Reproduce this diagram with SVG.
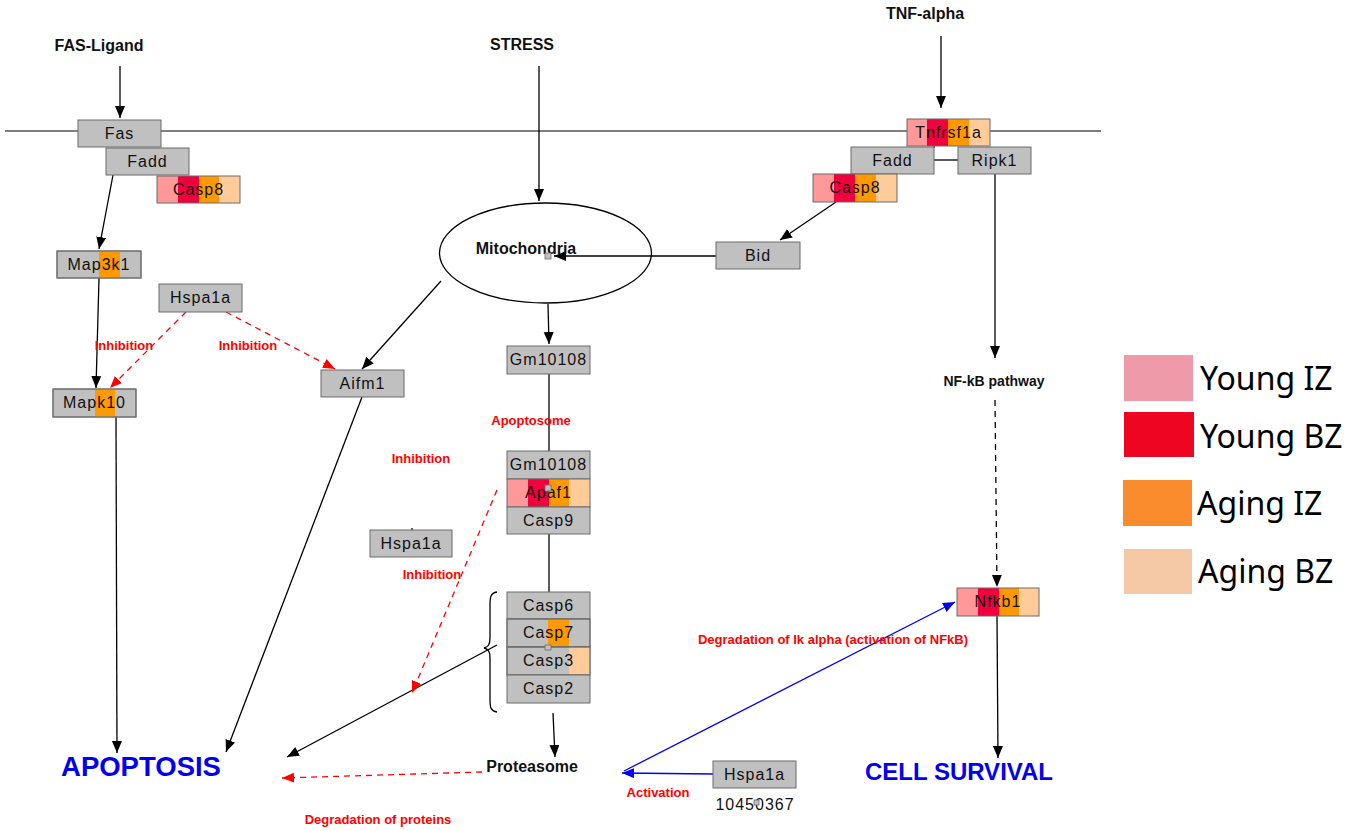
<svg xmlns="http://www.w3.org/2000/svg" width="1363" height="831" viewBox="0 0 1363 831">
<style>
.n{fill:#c0c0c0;stroke:#6b6b6b;stroke-width:1}
.t{font-family:"Liberation Sans",Arial,sans-serif;font-size:16px;letter-spacing:1px;fill:#111;text-anchor:middle}
.lb{font-family:"Liberation Sans",Arial,sans-serif;font-weight:bold;fill:#111;text-anchor:middle}
.rd{font-family:"Liberation Sans",Arial,sans-serif;font-weight:bold;fill:#f00;font-size:13px;text-anchor:middle}
.bl{font-family:"Liberation Sans",Arial,sans-serif;font-weight:bold;fill:#0000ee;text-anchor:middle}
.lg{font-family:"Noto Sans","Open Sans",sans-serif;font-size:32px;fill:#000}
.c1{fill:#ff9999}.c2{fill:#f0003c}.c3{fill:#ff9900}.c4{fill:#ffcc99}
.k{stroke:#000;stroke-width:1.3;fill:none}
.kd{stroke:#000;stroke-width:1.3;fill:none;stroke-dasharray:6,5}
.r{stroke:#f00;stroke-width:1.3;fill:none;stroke-dasharray:6,5}
.b{stroke:#0000ee;stroke-width:1.3;fill:none}
.o{fill:none;stroke:#6b6b6b;stroke-width:1}
.sq{fill:#c0c0c0;stroke:#6b6b6b;stroke-width:0.8}
</style>
<defs>
<marker id="ak" markerUnits="userSpaceOnUse" markerWidth="13" markerHeight="11" refX="12" refY="5" orient="auto"><path d="M0,0 L12,5 L0,10 z" fill="#000"/></marker>
<marker id="ar" markerUnits="userSpaceOnUse" markerWidth="13" markerHeight="11" refX="12" refY="5" orient="auto"><path d="M0,0 L12,5 L0,10 z" fill="#f00"/></marker>
<marker id="ab" markerUnits="userSpaceOnUse" markerWidth="13" markerHeight="11" refX="12" refY="5" orient="auto"><path d="M0,0 L12,5 L0,10 z" fill="#0000ee"/></marker>
</defs>
<rect width="1363" height="831" fill="#fff"/>

<!-- membrane -->
<line x1="5" y1="131" x2="1101" y2="131" stroke="#000" stroke-width="1.2"/>

<g id="connectors">
<line class="k" x1="120" y1="66" x2="120" y2="118" marker-end="url(#ak)"/>
<line class="k" x1="539" y1="66" x2="539" y2="201" marker-end="url(#ak)"/>
<line class="k" x1="941" y1="36" x2="941" y2="108" marker-end="url(#ak)"/>
<line class="k" x1="113" y1="175" x2="99" y2="249" marker-end="url(#ak)"/>
<line class="k" x1="99" y1="278" x2="96" y2="388" marker-end="url(#ak)"/>
<line class="k" x1="116" y1="417" x2="117" y2="753" marker-end="url(#ak)"/>
<line class="k" x1="362" y1="397" x2="226" y2="752" marker-end="url(#ak)"/>
<line class="k" x1="441" y1="281" x2="362" y2="369" marker-end="url(#ak)"/>
<line class="k" x1="716" y1="256" x2="554" y2="256" marker-end="url(#ak)"/>
<line class="k" x1="836" y1="202" x2="780" y2="240" marker-end="url(#ak)"/>
<line class="k" x1="934" y1="160" x2="958" y2="160"/>
<line class="k" x1="934" y1="146" x2="934" y2="148"/>
<line class="k" x1="995" y1="174" x2="995" y2="358" marker-end="url(#ak)"/>
<line class="kd" x1="995" y1="400" x2="997" y2="587" marker-end="url(#ak)"/>
<line class="k" x1="997" y1="616" x2="998" y2="758" marker-end="url(#ak)"/>
<line class="k" x1="548" y1="304" x2="549" y2="344" marker-end="url(#ak)"/>
<line class="k" x1="549" y1="374" x2="549" y2="451"/>
<line class="k" x1="549" y1="534" x2="549" y2="592"/>
<line class="k" x1="553" y1="713" x2="555" y2="757" marker-end="url(#ak)"/>
<line class="k" x1="497" y1="645" x2="287" y2="757" marker-end="url(#ak)"/>
<line class="r" x1="186" y1="312" x2="110" y2="388" marker-end="url(#ar)"/>
<line class="r" x1="226" y1="312" x2="335" y2="369" marker-end="url(#ar)"/>
<line class="r" x1="497" y1="490" x2="412" y2="693" marker-end="url(#ar)"/>
<line class="r" x1="482" y1="772" x2="282" y2="778" marker-end="url(#ar)"/>
<line class="b" x1="713" y1="774" x2="622" y2="773" marker-end="url(#ab)"/>
<line class="b" x1="624" y1="771" x2="955" y2="602" marker-end="url(#ab)"/>
<path class="k" d="M497,592 C490,593 490,598 490,606 L490,638 C490,645 488,647 484,648 C488,649 490,651 490,658 L490,700 C490,708 491,711 497,712"/>
<line class="k" x1="412" y1="528" x2="412" y2="530"/>
</g>

<!-- left pathway -->
<g id="fas"><rect class="n" x="78" y="120" width="83" height="27"/><text class="t" x="119.5" y="139">Fas</text></g>
<g id="fadd-left"><rect class="n" x="106" y="148" width="83" height="27"/><text class="t" x="147.5" y="167">Fadd</text></g>
<g id="casp8-left">
<rect class="c1" x="157" y="176" width="21" height="27"/><rect class="c2" x="178" y="176" width="21" height="27"/><rect class="c3" x="199" y="176" width="20" height="27"/><rect class="c4" x="219" y="176" width="21" height="27"/>
<rect class="o" x="157" y="176" width="83" height="27"/><text class="t" x="198.5" y="195">Casp8</text></g>
<g id="map3k1"><rect class="n" x="57" y="251" width="84" height="27"/><rect class="c3" x="99" y="251.5" width="21" height="26"/><rect class="o" x="57" y="251" width="84" height="27"/><text class="t" x="99" y="270">Map3k1</text></g>
<g id="hspa1a-top"><rect class="n" x="159" y="284" width="83" height="28"/><text class="t" x="200.5" y="303">Hspa1a</text></g>
<g id="mapk10"><rect class="n" x="53" y="389" width="83" height="28"/><rect class="c3" x="95" y="389.5" width="20" height="27"/><rect class="o" x="53" y="389" width="83" height="28"/><text class="t" x="94.5" y="408">Mapk10</text></g>
<g id="aifm1"><rect class="n" x="321" y="370" width="83" height="27"/><text class="t" x="362.5" y="389">Aifm1</text></g>
<g id="hspa1a-mid"><rect class="n" x="370" y="530" width="82" height="27"/><text class="t" x="411" y="549">Hspa1a</text></g>

<!-- mitochondria -->
<g id="mitochondria"><ellipse cx="545.5" cy="253" rx="106" ry="50" fill="none" stroke="#000" stroke-width="1.3"/><text class="lb" x="526" y="254" font-size="16">Mitochondria</text><rect class="sq" x="545" y="253" width="6" height="6"/></g>
<g id="bid"><rect class="n" x="716" y="242" width="84" height="27"/><text class="t" x="758" y="261">Bid</text></g>

<!-- center column -->
<g id="gm10108-a"><rect class="n" x="507" y="346" width="83" height="28"/><text class="t" x="548.5" y="365">Gm10108</text></g>
<g id="apoptosome-complex">
<rect class="n" x="507" y="451" width="83" height="28"/><text class="t" x="548.5" y="470">Gm10108</text>
<rect class="c1" x="507" y="479" width="21" height="28"/><rect class="c2" x="528" y="479" width="21" height="28"/><rect class="c3" x="549" y="479" width="20" height="28"/><rect class="c4" x="569" y="479" width="21" height="28"/>
<rect class="o" x="507" y="479" width="83" height="28"/><text class="t" x="548.5" y="498">Apaf1</text>
<rect class="sq" x="545" y="485" width="6" height="6"/>
<rect class="n" x="507" y="507" width="83" height="27"/><text class="t" x="548.5" y="526">Casp9</text>
</g>
<g id="caspases">
<rect class="n" x="507" y="592" width="83" height="27"/><text class="t" x="548.5" y="611">Casp6</text>
<rect class="n" x="507" y="619" width="83" height="28"/><rect class="c3" x="548" y="619.5" width="21" height="27"/><rect class="o" x="507" y="619" width="83" height="28"/><text class="t" x="548.5" y="638">Casp7</text>
<rect class="n" x="507" y="647" width="83" height="28"/><rect class="c4" x="569" y="647.5" width="20.5" height="27"/><rect class="o" x="507" y="647" width="83" height="28"/><text class="t" x="548.5" y="666">Casp3</text>
<rect class="n" x="507" y="675" width="83" height="28"/><text class="t" x="548.5" y="694">Casp2</text>
<rect class="sq" x="545" y="645" width="6" height="5"/>
</g>

<!-- right pathway -->
<g id="tnfrsf1a">
<rect class="c1" x="907" y="119" width="20" height="27"/><rect class="c2" x="927" y="119" width="21" height="27"/><rect class="c3" x="948" y="119" width="21" height="27"/><rect class="c4" x="969" y="119" width="21" height="27"/>
<rect class="o" x="907" y="119" width="83" height="27"/><text class="t" x="948.5" y="138">Tnfrsf1a</text></g>
<g id="fadd-right"><rect class="n" x="851" y="147" width="83" height="27"/><text class="t" x="892.5" y="166">Fadd</text></g>
<g id="ripk1"><rect class="n" x="958" y="147" width="73" height="27"/><text class="t" x="994.5" y="166">Ripk1</text></g>
<g id="casp8-right">
<rect class="c1" x="813" y="174" width="21" height="28"/><rect class="c2" x="834" y="174" width="21" height="28"/><rect class="c3" x="855" y="174" width="21" height="28"/><rect class="c4" x="876" y="174" width="21" height="28"/>
<rect class="o" x="813" y="174" width="84" height="28"/><text class="t" x="855" y="193">Casp8</text></g>
<g id="nfkb1">
<rect class="c1" x="957" y="588" width="21" height="28"/><rect class="c2" x="978" y="588" width="21" height="28"/><rect class="c3" x="999" y="588" width="20" height="28"/><rect class="c4" x="1019" y="588" width="20" height="28"/>
<rect class="o" x="957" y="588" width="82" height="28"/><text class="t" x="998" y="607">Nfkb1</text></g>
<g id="hspa1a-bottom"><rect class="n" x="713" y="761" width="83" height="27"/><text class="t" x="754.5" y="780">Hspa1a</text>
<text class="t" x="755" y="810" letter-spacing="1.5px">10450367</text><rect class="sq" x="754" y="800" width="5" height="5" fill="none"/></g>

<!-- labels -->
<g id="labels">
<text class="lb" x="99" y="51" font-size="16">FAS-Ligand</text>
<text class="lb" x="522" y="50" font-size="16">STRESS</text>
<text class="lb" x="925" y="19" font-size="16">TNF-alpha</text>
<text class="lb" x="994" y="386" font-size="14">NF-kB pathway</text>
<text class="lb" x="532" y="772" font-size="16">Proteasome</text>
<text class="bl" x="141" y="776" font-size="27.5">APOPTOSIS</text>
<text class="bl" x="959" y="780" font-size="24">CELL SURVIVAL</text>
<text class="rd" x="124" y="350">Inhibition</text>
<text class="rd" x="248" y="350">Inhibition</text>
<text class="rd" x="421" y="463">Inhibition</text>
<text class="rd" x="432" y="579">Inhibition</text>
<text class="rd" x="531" y="425" font-size="14">Apoptosome</text>
<text class="rd" x="833" y="644" font-size="13.5">Degradation of Ik alpha (activation of NFkB)</text>
<text class="rd" x="378" y="824">Degradation of proteins</text>
<text class="rd" x="658" y="797">Activation</text>
</g>

<!-- legend -->
<g id="legend">
<rect x="1124" y="355" width="69" height="46" fill="#ee9aa8"/>
<rect x="1124" y="412" width="70" height="45" fill="#ee0522"/>
<rect x="1123" y="480" width="69" height="46" fill="#fb8c2e"/>
<rect x="1124" y="549" width="68" height="45" fill="#f6c9a6"/>
<text class="lg" x="1200" y="390">Young IZ</text>
<text class="lg" x="1200" y="448">Young BZ</text>
<text class="lg" x="1197" y="515">Aging IZ</text>
<text class="lg" x="1198" y="583">Aging BZ</text>
</g>
</svg>
